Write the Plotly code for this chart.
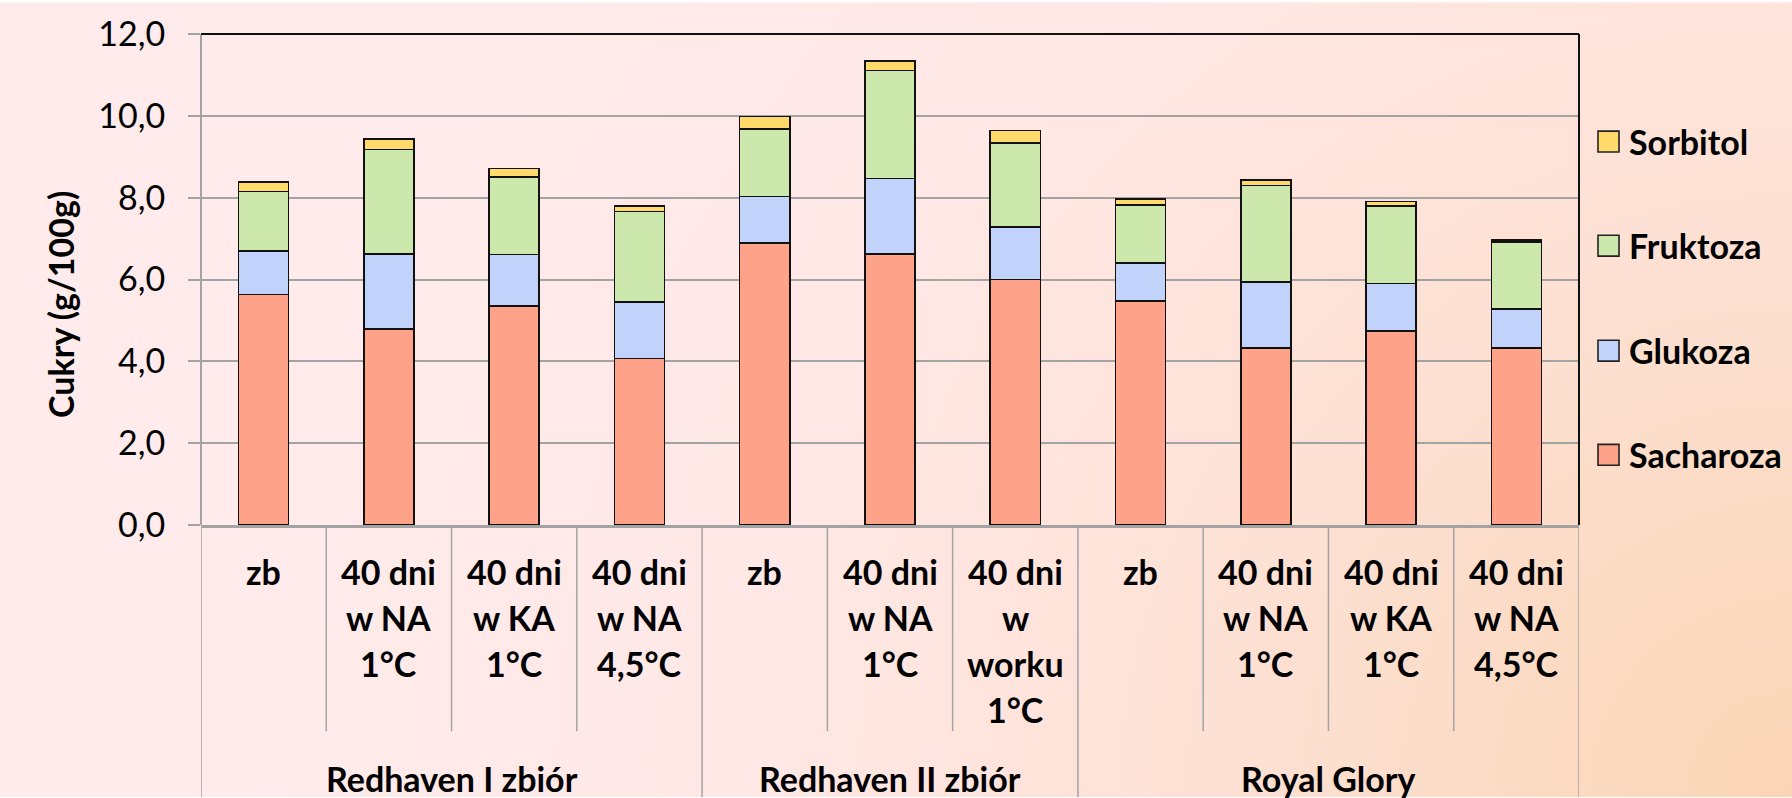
import base64
import plotly.graph_objects as go

# ---- data -------------------------------------------------------------
groups = ["Redhaven I zbiór", "Redhaven II zbiór", "Royal Glory"]
group_sizes = [4, 3, 4]
categories = [
    "zb", "40 dni<br>w NA<br>1°C", "40 dni<br>w KA<br>1°C", "40 dni<br>w NA<br>4,5°C",
    "zb", "40 dni<br>w NA<br>1°C", "40 dni<br>w<br>worku<br>1°C",
    "zb", "40 dni<br>w NA<br>1°C", "40 dni<br>w KA<br>1°C", "40 dni<br>w NA<br>4,5°C",
]
sacharoza = [5.63, 4.79, 5.35, 4.07, 6.89, 6.63, 6.00, 5.47, 4.33, 4.74, 4.32]
glukoza = [1.06, 1.83, 1.26, 1.38, 1.14, 1.84, 1.29, 0.94, 1.61, 1.16, 0.96]
fruktoza = [1.46, 2.56, 1.90, 2.21, 1.65, 2.64, 2.04, 1.41, 2.36, 1.89, 1.63]
sorbitol = [0.24, 0.26, 0.20, 0.14, 0.30, 0.23, 0.31, 0.15, 0.13, 0.12, 0.05]

series_names = ["Sacharoza", "Glukoza", "Fruktoza", "Sorbitol"]
series_values = [sacharoza, glukoza, fruktoza, sorbitol]
series_colors = ["#FFA28A", "#C1D3FA", "#CDE8AC", "#FFDA6A"]

y_title = "Cukry (g/100g)"

# ---- geometry (pixels) ------------------------------------------------
W, H = 1792, 798
L, R, T, B = 201, 1579, 32, 525
PW, PH = R - L, B - T

def px_x(px):
    return (px - L) / PW

def px_y(py):
    return (B - py) / PH

FONT = "Lato"
GRAY = "#A3A3A3"

n = len(categories)
xs = list(range(n))

fig = go.Figure()
for name, vals, col in zip(series_names, series_values, series_colors):
    fig.add_trace(go.Bar(
        x=xs, y=vals, name=name, width=0.4,
        marker=dict(color=col, line=dict(color="#111111", width=1.6)),
        showlegend=False,
    ))

# background gradient
svg = (
    f"<svg xmlns='http://www.w3.org/2000/svg' width='{W}' height='{H}' "
    f"viewBox='0 0 {W} {H}' preserveAspectRatio='none'>"
    "<defs><radialGradient id='g' gradientUnits='userSpaceOnUse' "
    f"cx='{W}' cy='{H}' r='1500'>"
    "<stop offset='0' stop-color='#FAD5B4'/>"
    "<stop offset='0.35' stop-color='#FDE0D2'/>"
    "<stop offset='0.7' stop-color='#FFE8E6'/>"
    "<stop offset='1' stop-color='#FFEBEB'/>"
    "</radialGradient></defs>"
    f"<rect width='{W}' height='{H}' fill='url(#g)'/></svg>"
)
bg_src = "data:image/svg+xml;base64," + base64.b64encode(svg.encode()).decode()

shapes = []
annotations = []

# category dividers below the axis
bounds = []
pos = 0
for s in group_sizes:
    bounds.append(pos)
    pos += s
group_edges = set(b - 0.5 for b in bounds) | {n - 0.5}
for k in range(n + 1):
    xb = k - 0.5
    y0 = px_y(H) if xb in group_edges else px_y(732)
    shapes.append(dict(type="line", xref="x", yref="paper", x0=xb, x1=xb,
                       y0=y0, y1=0, line=dict(color=GRAY, width=1.5)))

# plot frame: left grey, top and right black
shapes.append(dict(type="line", xref="paper", yref="paper", x0=0, x1=0,
                   y0=0, y1=1, line=dict(color=GRAY, width=2)))
shapes.append(dict(type="line", xref="paper", yref="paper", x0=0, x1=1,
                   y0=1, y1=1, line=dict(color="#111111", width=2)))
shapes.append(dict(type="line", xref="paper", yref="paper", x0=1, x1=1,
                   y0=0, y1=1, line=dict(color="#111111", width=2)))

# category labels, one annotation per text line
LINE0, LINE_STEP = 572, 46
for i, lab in enumerate(categories):
    for k, part in enumerate(lab.split("<br>")):
        annotations.append(dict(x=i, y=px_y(LINE0 + k * LINE_STEP), xref="x",
                                yref="paper", text=f"<b>{part}</b>",
                                showarrow=False, yanchor="middle",
                                font=dict(family=FONT, size=34, color="#000")))

# group labels
for g, start, s in zip(groups, bounds, group_sizes):
    annotations.append(dict(x=start + (s - 1) / 2, y=px_y(780), xref="x",
                            yref="paper", text=f"<b>{g}</b>", showarrow=False,
                            yanchor="middle",
                            font=dict(family=FONT, size=34, color="#000")))

# y-axis title
annotations.append(dict(x=px_x(61), y=px_y(304), xref="paper", yref="paper",
                        text=f"<b>{y_title}</b>", textangle=-90, showarrow=False,
                        xanchor="center", yanchor="middle",
                        font=dict(family=FONT, size=34, color="#000")))

# legend (top series first)
legend_y = [140, 244.5, 350, 454.5]
for name, col, yc in zip(series_names[::-1], series_colors[::-1], legend_y):
    shapes.append(dict(type="rect", xref="paper", yref="paper",
                       x0=px_x(1598), x1=px_x(1619),
                       y0=px_y(yc + 10.5), y1=px_y(yc - 10.5),
                       fillcolor=col, line=dict(color="#222222", width=1.6)))
    annotations.append(dict(x=px_x(1627), y=px_y(yc), xref="paper", yref="paper",
                            text=f"<b>{name}</b>", showarrow=False,
                            xanchor="left", yanchor="middle",
                            font=dict(family=FONT, size=34, color="#000")))

fig.update_layout(
    width=W, height=H,
    margin=dict(l=L, r=W - R, t=T, b=H - B, pad=0),
    barmode="stack",
    paper_bgcolor="rgba(0,0,0,0)",
    plot_bgcolor="rgba(0,0,0,0)",
    separators=", ",
    images=[dict(source=bg_src, xref="paper", yref="paper",
                 x=px_x(0), y=px_y(0), sizex=W / PW, sizey=H / PH,
                 xanchor="left", yanchor="top", sizing="stretch",
                 layer="below")],
    shapes=shapes,
    annotations=annotations,
    xaxis=dict(range=[-0.5, n - 0.5], showgrid=False, zeroline=False,
               showticklabels=False, ticks="",
               showline=True, linecolor=GRAY, linewidth=3),
    yaxis=dict(range=[0, 12], dtick=2, tick0=0, tickformat=".1f",
               showgrid=True, gridcolor=GRAY, gridwidth=2,
               zeroline=False, showline=False,
               ticks="outside", ticklen=12, tickcolor=GRAY, tickwidth=2,
               ticklabelstandoff=16,
               tickfont=dict(family=FONT, size=34, color="#000")),
)

fig.write_html("out.html")
